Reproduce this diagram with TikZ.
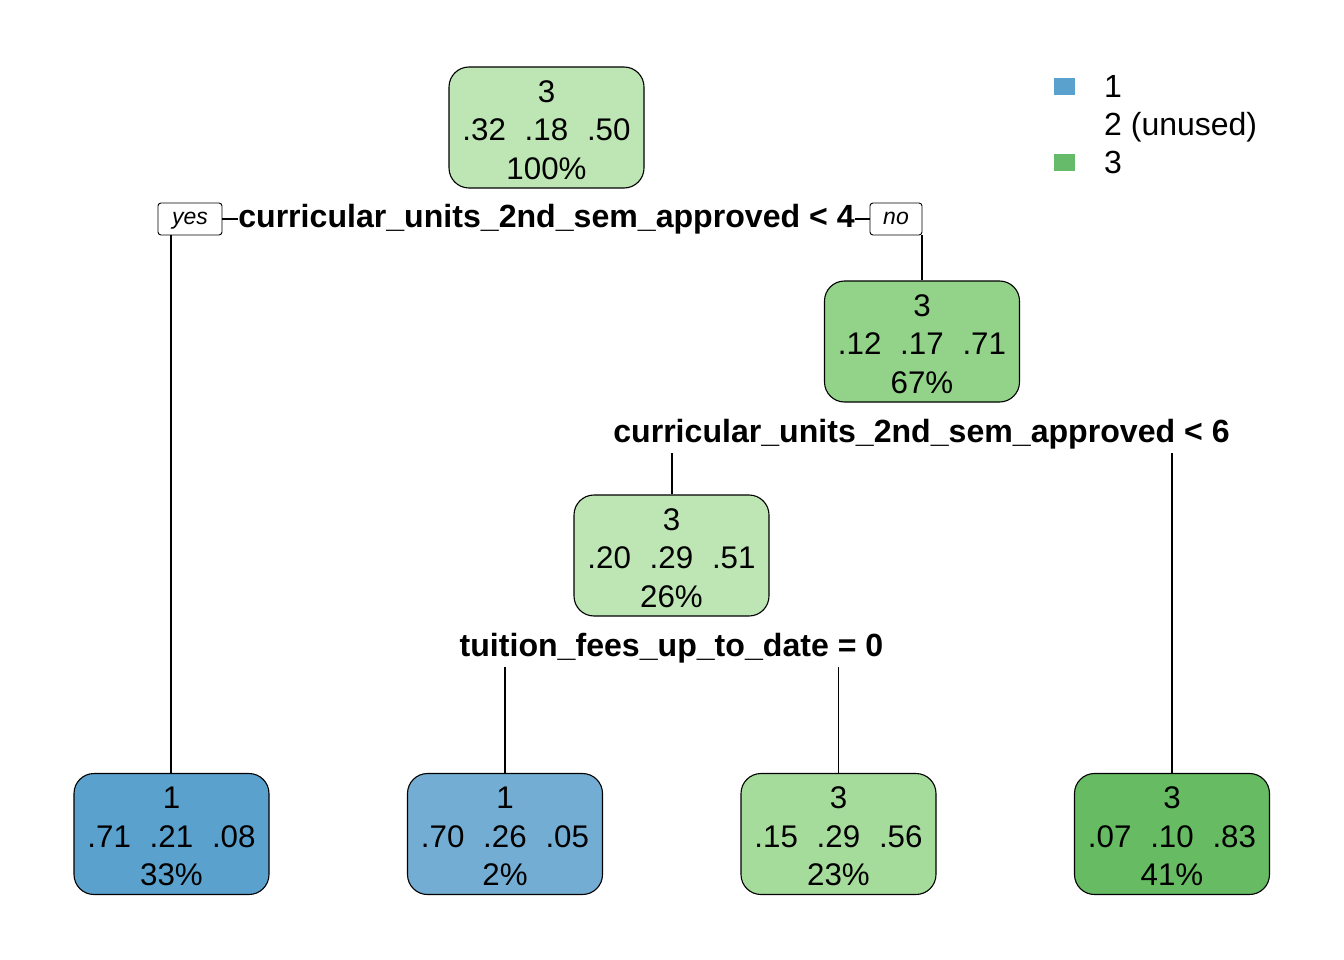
\documentclass[tikz,border=0pt]{standalone}
\usepackage{fontspec}
\setmainfont{Liberation Sans}
% first-line strut that lowers the three text lines a little inside the boxes
\newcommand{\toplift}{\rule{0pt}{27pt}}
\begin{document}
\begin{tikzpicture}[x=1pt,y=-1pt,
  treenode/.style={draw=black, line width=1.1pt, rounded corners=20pt,
    minimum width=195pt, minimum height=121pt, inner sep=0pt,
    align=center, font=\fontsize{31.3}{38.5}\selectfont},
  splitlabel/.style={inner sep=0pt, text height=23pt, text depth=7pt,
    font=\fontsize{32.1}{36}\selectfont\bfseries},
  branchtag/.style={draw=black, line width=0.9pt, rounded corners=3pt,
    inner sep=0pt, minimum height=32pt, text height=17pt, text depth=5pt,
    font=\fontsize{23}{26}\selectfont\itshape},
  edge/.style={line width=1.1pt},
  legtext/.style={anchor=west, inner sep=0pt, text height=23pt, text depth=7pt,
    font=\fontsize{32}{36}\selectfont}]
\definecolor{rootg}{HTML}{BEE6B4}
\definecolor{midg}{HTML}{92D389}
\definecolor{leafgA}{HTML}{A5DB9B}
\definecolor{leafgB}{HTML}{66BB63}
\definecolor{leafbA}{HTML}{5BA1CD}
\definecolor{leafbB}{HTML}{74ADD3}
\definecolor{legb}{HTML}{5BA1CD}
\definecolor{legg}{HTML}{66BB6A}
\useasboundingbox (0,0) rectangle (1344,960);

% decision nodes
\node[treenode, fill=rootg] (root) at (546.5,127.5) {\toplift 3\\.32\hspace{0.6em}.18\hspace{0.6em}.50\\100\%};
\node[treenode, fill=midg] (n2) at (922,341.5) {\toplift 3\\.12\hspace{0.6em}.17\hspace{0.6em}.71\\67\%};
\node[treenode, fill=rootg] (n3) at (671.5,555.5) {\toplift 3\\.20\hspace{0.6em}.29\hspace{0.6em}.51\\26\%};

% leaves
\node[treenode, fill=leafbA] (l1) at (171.5,834) {\toplift 1\\.71\hspace{0.6em}.21\hspace{0.6em}.08\\33\%};
\node[treenode, fill=leafbB] (l2) at (505,834) {\toplift 1\\.70\hspace{0.6em}.26\hspace{0.6em}.05\\2\%};
\node[treenode, fill=leafgA] (l3) at (838.5,834) {\toplift 3\\.15\hspace{0.6em}.29\hspace{0.6em}.56\\23\%};
\node[treenode, fill=leafgB] (l4) at (1172,834) {\toplift 3\\.07\hspace{0.6em}.10\hspace{0.6em}.83\\41\%};

% split labels
\node[splitlabel] (s1) at (546.5,220) {curricular\_units\_2nd\_sem\_approved < 4};
\node[splitlabel] (s2) at (921.5,434) {curricular\_units\_2nd\_sem\_approved < 6};
\node[splitlabel] (s3) at (671.5,648) {tuition\_fees\_up\_to\_date = 0};

% yes / no tags
\node[branchtag, minimum width=64pt] (yes) at (190,219) {yes};
\node[branchtag, minimum width=52pt] (no) at (896,219) {no};

% connectors
\draw[edge] (yes.east) -- (yes.east -| s1.west);
\draw[edge] (no.west -| s1.east) -- (no.west);
\coordinate (yb) at (171,235);
\coordinate (nb) at (922,235);
\draw[edge] (yb) -- (l1.north -| yb);
\draw[edge] (nb) -- (n2.north);

\coordinate (s2l) at (672,453);
\coordinate (s2r) at (1172,453);
\draw[edge] (s2l) -- (n3.north -| s2l);
\draw[edge] (s2r) -- (l4.north);

\coordinate (s3l) at (505,667);
\coordinate (s3r) at (838.5,667);
\draw[edge] (s3l) -- (l2.north);
\draw[edge] (s3r) -- (l3.north);

% legend
\fill[legb] (1054,78) rectangle (1075,95);
\fill[legg] (1054,154) rectangle (1075,171);
\node[legtext] (k1) at (1104,90) {1};
\node[legtext] (k2) at (1104,128) {2 (unused)};
\node[legtext] (k3) at (1104,166) {3};
\end{tikzpicture}
\end{document}
